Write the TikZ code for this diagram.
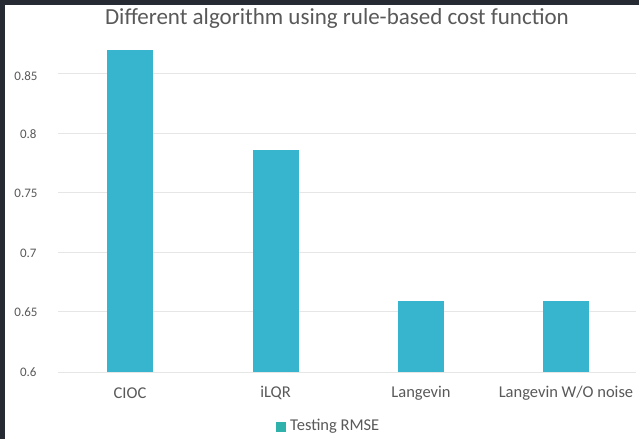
\documentclass[tikz,border=0pt]{standalone}
\usepackage{fontspec}
\setmainfont{Carlito}
\definecolor{frame}{HTML}{262A33}
\definecolor{barblue}{HTML}{38B5CE}
\definecolor{keyteal}{HTML}{30B2AC}
\definecolor{txtgray}{HTML}{595959}
\definecolor{gridgray}{HTML}{E6E6E6}
\begin{document}
\begin{tikzpicture}[x=1pt,y=1pt]
      \tikzset{bar/.style={fill=barblue, minimum width=46pt, anchor=south, inner sep=0pt},
               tick/.style={text=txtgray, font=\fontsize{13}{15}\selectfont, anchor=east},
               cat/.style={text=txtgray, font=\fontsize{16.5}{18}\selectfont},
               grid/.style={gridgray, line width=1pt}}
      \fill[frame] (0,0) rectangle (639,439);
      \fill[white] (5,0) rectangle (639,434);
      \useasboundingbox (0,0) rectangle (639,439);
      % title
      \node[text=txtgray, font=\fontsize{23}{26}\selectfont] (title) at (337,421) {Different algorithm using rule-based cost function};
      % grid and axis values
      \draw[grid] (58,365) -- (636,365);
      \draw[grid] (58,305) -- (636,305);
      \draw[grid] (58,246) -- (636,246);
      \draw[grid] (58,186) -- (636,186);
      \draw[grid] (58,127) -- (636,127);
      \draw[grid] (58,67) -- (636,67);
      \node[tick] (v85) at (41,363) {0.85};
      \node[tick] (v80) at (40,305) {0.8};
      \node[tick] (v75) at (41,246) {0.75};
      \node[tick] (v70) at (40,186) {0.7};
      \node[tick] (v65) at (41,127) {0.65};
      \node[tick] (v60) at (40,67) {0.6};
      % bars
      \node[bar, minimum height=322pt] (cioc) at (130,67) {};
      \node[bar, minimum height=222pt] (ilqr) at (275.5,67) {};
      \node[bar, minimum height=71pt] (lang) at (421,67) {};
      \node[bar, minimum height=71pt] (langnn) at (566,67) {};
      \node[cat] (cioclab) at (130,46) {CIOC};
      \node[cat] (ilqrlab) at (275.5,46) {iLQR};
      \node[cat] (langlab) at (421,46) {Langevin};
      \node[cat] (langnnlab) at (566,46) {Langevin W/O noise};
      % legend
      \node[fill=keyteal, minimum size=10pt, inner sep=0pt] (key) at (280.5,12.5) {};
      \node[cat, anchor=west, inner sep=0pt] (keylab) at (290,12.5) {Testing RMSE};
    \end{tikzpicture}
\end{document}
